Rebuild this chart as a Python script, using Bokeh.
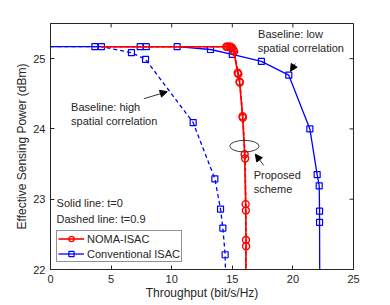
from bokeh.plotting import figure
from bokeh.models import Range1d, Legend, LegendItem, Arrow, NormalHead, FixedTicker
from bokeh.core.properties import value
from bokeh.embed import file_html
from bokeh.resources import INLINE

FONT = "Liberation Sans"
AX = "#262626"

x_ticks = [0, 5, 10, 15, 20, 25]
y_ticks = [22, 23, 24, 25]
x_lim = (0, 25)
y_lim = (22, 25.5)

# Conventional ISAC
conv_t0_x = [0, 3.66, 7.4, 7.9, 10.45, 13.2, 15.0, 17.4, 19.66, 21.4, 22.0, 22.17, 22.2, 22.2, 22.22]
conv_t0_y = [25.17, 25.17, 25.17, 25.17, 25.17, 25.13, 25.06, 24.96, 24.765, 24.0, 23.35, 23.19, 22.83, 22.67, 21.5]
conv_t09_x = [0, 4.2, 6.68, 7.84, 11.77, 13.56, 14.03, 14.22, 14.41, 14.48]
conv_t09_y = [25.17, 25.17, 25.085, 24.99, 24.09, 23.29, 22.86, 22.59, 22.21, 21.5]

# NOMA-ISAC
noma_t0_x = [4.2, 14.5, 14.75, 14.95, 15.1, 15.45, 15.6, 15.85, 16.02, 16.1, 16.13, 16.1]
noma_t0_y = [25.17, 25.17, 25.17, 25.16, 25.12, 24.8, 24.67, 24.18, 23.64, 22.93, 22.42, 21.5]
noma_t09_x = [4.2, 14.6, 14.85, 15.0, 15.15, 15.5, 15.62, 15.87, 16.06, 16.12, 16.14, 16.1]
noma_t09_y = [25.17, 25.17, 25.17, 25.15, 25.1, 24.78, 24.66, 24.16, 23.58, 22.84, 22.33, 21.5]

# annotations
ann_text = ["Solid line: t=0", "Dashed line: t=0.9", "Baseline: high", "spatial correlation",
            "Baseline: low", "spatial correlation", "Proposed", "scheme"]
ann_x = [0.5, 0.5, 1.7, 1.7, 17.13, 17.1, 16.77, 16.77]
ann_y = [22.95, 22.72, 24.31, 24.11, 25.35, 25.155, 23.35, 23.14]

arrows = [  # x_start, y_start, x_end, y_end
    (7.7, 24.43, 9.63, 24.53),
    (20.2, 24.93, 19.8, 24.82),
    (17.6, 23.48, 16.9, 23.64),
]
ell_x, ell_y, ell_w, ell_h = 16.0, 23.755, 2.42, 0.165

W, H = 390, 305
BL, BR, BT, BB = 50, 37, 23, 36

p = figure(width=W, height=H, output_backend="svg", toolbar_location=None,
           x_range=Range1d(*x_lim), y_range=Range1d(*y_lim),
           min_border_left=BL, min_border_right=BR, min_border_top=BT, min_border_bottom=BB)
p.background_fill_color = "white"
p.border_fill_color = "white"
p.xgrid.visible = False
p.ygrid.visible = False
p.outline_line_color = AX
p.outline_line_width = 1

for ax, ticks in ((p.xaxis[0], x_ticks), (p.yaxis[0], y_ticks)):
    ax.ticker = FixedTicker(ticks=ticks)
    ax.major_tick_in = 4
    ax.major_tick_out = 0
    ax.minor_tick_in = 0
    ax.minor_tick_out = 0
    ax.axis_line_color = AX
    ax.major_tick_line_color = AX
    ax.major_label_text_font = FONT
    ax.major_label_text_font_size = "11px"
    ax.major_label_text_color = AX
    ax.axis_label_text_font = FONT
    ax.axis_label_text_font_size = "12px"
    ax.axis_label_text_font_style = "normal"
    ax.axis_label_text_color = AX

p.xaxis.axis_label = "Throughput (bit/s/Hz)"
p.yaxis.axis_label = "Effective Sensing Power (dBm)"
p.xaxis.major_label_standoff = 5
p.xaxis.axis_label_standoff = 0
p.yaxis.major_label_standoff = 5
p.yaxis.axis_label_standoff = 1

# inward tick marks on top and right edges (4 px long)
fw = W - BL - BR
fh = H - BT - BB
dx = 4 * (x_lim[1] - x_lim[0]) / fw
dy = 4 * (y_lim[1] - y_lim[0]) / fh
p.segment(x0=x_ticks, y0=[y_lim[1]] * len(x_ticks), x1=x_ticks,
          y1=[y_lim[1] - dy] * len(x_ticks), line_color=AX, line_width=1)
p.segment(x0=[x_lim[1]] * len(y_ticks), y0=y_ticks, x1=[x_lim[1] - dx] * len(y_ticks),
          y1=y_ticks, line_color=AX, line_width=1)

BLUE = "#0000ff"
RED = "#ff0000"

b1 = p.line(conv_t0_x, conv_t0_y, line_color=BLUE, line_width=1.3)
b1m = p.scatter(conv_t0_x[1:], conv_t0_y[1:], marker="square", size=6, fill_color=None,
                line_color=BLUE, line_width=1.2)
p.line(conv_t09_x, conv_t09_y, line_color=BLUE, line_width=1.3, line_dash="4 3")
p.scatter(conv_t09_x[1:], conv_t09_y[1:], marker="square", size=6, fill_color=None,
          line_color=BLUE, line_width=1.2)

r1 = p.line(noma_t0_x, noma_t0_y, line_color=RED, line_width=1.6)
r1m = p.scatter(noma_t0_x[1:], noma_t0_y[1:], marker="circle", size=7, fill_color=None,
                line_color=RED, line_width=1.4)
p.line(noma_t09_x, noma_t09_y, line_color=RED, line_width=1.6, line_dash="4 2")
p.scatter(noma_t09_x[1:], noma_t09_y[1:], marker="circle", size=7, fill_color=None,
          line_color=RED, line_width=1.4)

p.text(x=ann_x, y=ann_y, text=ann_text, text_font=value(FONT), text_font_size="11px",
       text_color=AX, text_align="left", text_baseline="middle")

for xs, ys, xe, ye in arrows:
    p.add_layout(Arrow(x_start=xs, y_start=ys, x_end=xe, y_end=ye, line_color="black",
                       line_width=0.8,
                       end=NormalHead(size=7, fill_color="black", line_color="black")))

p.ellipse(x=[ell_x], y=[ell_y], width=[ell_w], height=[ell_h], fill_color=None,
          line_color="#404040", line_width=1)

legend = Legend(items=[LegendItem(label="NOMA-ISAC", renderers=[r1, r1m]),
                       LegendItem(label="Conventional ISAC", renderers=[b1, b1m])],
                location=(6, 7), label_text_font=FONT, label_text_font_size="11px",
                label_text_color=AX, glyph_width=26, glyph_height=13, label_standoff=3,
                spacing=2, padding=1, margin=0, border_line_color=AX, border_line_width=1,
                background_fill_color="white", background_fill_alpha=1,
                label_height=13)
p.add_layout(legend, "center")

open("out.html", "w").write(file_html(p, INLINE))
